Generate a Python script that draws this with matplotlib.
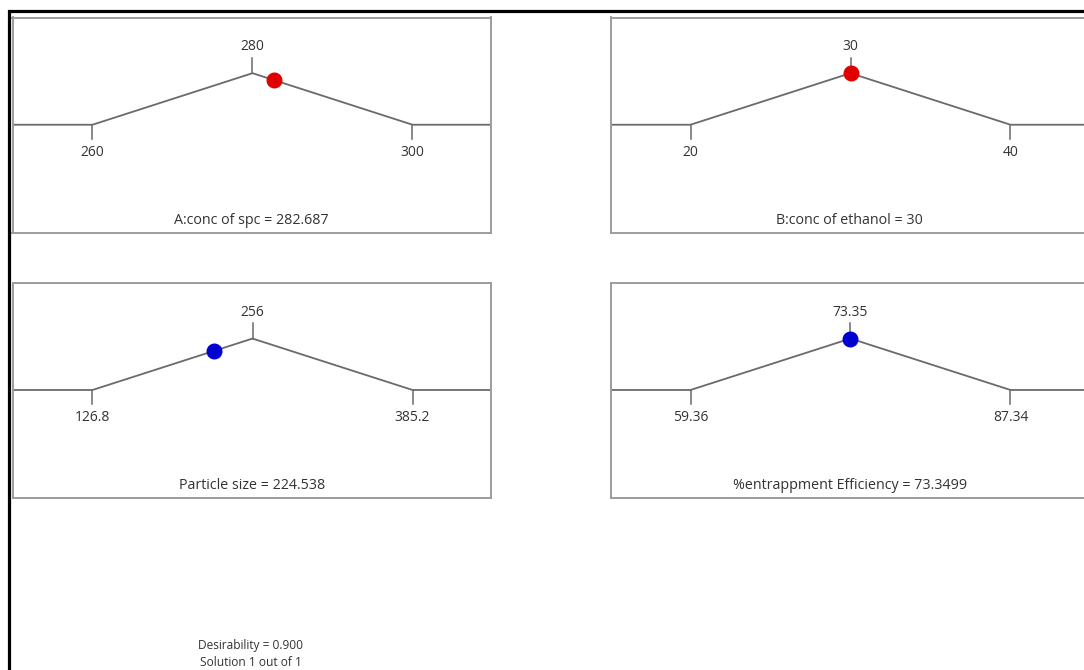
import numpy as np
import matplotlib.pyplot as plt
from matplotlib.patches import Rectangle

plt.rcParams['font.family'] = ['Open Sans', 'DejaVu Sans']

# factor / response ramps: low, target, high, optimum value
names = ['A:conc of spc', 'B:conc of ethanol', 'Particle size', '%entrappment Efficiency']
lows = [260, 20, 126.8, 59.36]
mids = [280, 30, 256, 73.35]
highs = [300, 40, 385.2, 87.34]
optimum = [282.687, 30, 224.538, 73.3499]
opt_labels = ['282.687', '30', '224.538', '73.3499']
tick_labels = [('260', '280', '300'), ('20', '30', '40'),
               ('126.8', '256', '385.2'), ('59.36', '73.35', '87.34')]
dot_colors = ['#e00000', '#e00000', '#0000d0', '#0000d0']
desirability = 0.900

W, H = 1084, 670
fig = plt.figure(figsize=(W / 100, H / 100), dpi=100)

# outer frame
fig.add_artist(Rectangle((8.5 / W, -0.1), 1.2, 1 - 10.8 / H + 0.1, transform=fig.transFigure,
                         fill=False, edgecolor='black', linewidth=2.3))

# panel boxes in pixels: left, top, right, bottom
boxes = [(12.5, 17.5, 491, 233), (610.5, 17.5, 1089, 233),
         (12.5, 283, 491, 498), (610.5, 283, 1089, 498)]
tick_px_left, tick_px_span = 80, 320   # low tick offset from box, low-high spacing

line_col = '#6a6a6a'
box_col = '#9c9c9c'
txt_col = '#333333'

for i, (l, t, r, b) in enumerate(boxes):
    ax = fig.add_axes([l / W, 1 - b / H, (r - l) / W, (b - t) / H])
    lo, mid, hi = lows[i], mids[i], highs[i]
    per_px = (hi - lo) / tick_px_span
    xmin = lo - tick_px_left * per_px
    xmax = xmin + (r - l) * per_px
    ax.set_xlim(xmin, xmax)
    ax.set_ylim(-2.1, 2.08)

    xs = [xmin, lo, mid, hi, xmax]
    ys = [0, 0, 1, 0, 0]
    ax.plot(xs, ys, color=line_col, lw=1.3, solid_joinstyle='miter')

    # small tick marks at the three anchor points
    ax.plot([lo, lo], [0, -0.28], color=line_col, lw=1.1)
    ax.plot([hi, hi], [0, -0.28], color=line_col, lw=1.1)
    ax.plot([mid, mid], [1, 1.3], color=line_col, lw=1.1)

    lab_lo, lab_mid, lab_hi = tick_labels[i]
    ax.annotate(lab_lo, (lo, 0), xytext=(0, -20), textcoords='offset points',
                ha='center', va='center', fontsize=10, color=txt_col)
    ax.annotate(lab_hi, (hi, 0), xytext=(0, -20), textcoords='offset points',
                ha='center', va='center', fontsize=10, color=txt_col)
    ax.annotate(lab_mid, (mid, 1), xytext=(0, 19), textcoords='offset points',
                ha='center', va='center', fontsize=10, color=txt_col)

    yv = np.interp(optimum[i], xs, ys)
    ax.plot(optimum[i], yv, 'o', color=dot_colors[i], markersize=10.5,
            markeredgecolor=dot_colors[i], zorder=5)

    ax.text(0.5, 0.058, f'{names[i]} = {opt_labels[i]}', transform=ax.transAxes,
            ha='center', va='center', fontsize=10.3, color=txt_col)

    ax.set_xticks([])
    ax.set_yticks([])
    for sp in ax.spines.values():
        sp.set_color(box_col)
        sp.set_linewidth(1.4)

fig.text(251 / W, 1 - 645 / H, f'Desirability = {desirability:.3f}', ha='center', va='center',
         fontsize=8.6, color=txt_col)
fig.text(251 / W, 1 - 663 / H, 'Solution 1 out of 1', ha='center', va='center',
         fontsize=8.6, color=txt_col)

fig.savefig('out.png', dpi=100, facecolor='white')
